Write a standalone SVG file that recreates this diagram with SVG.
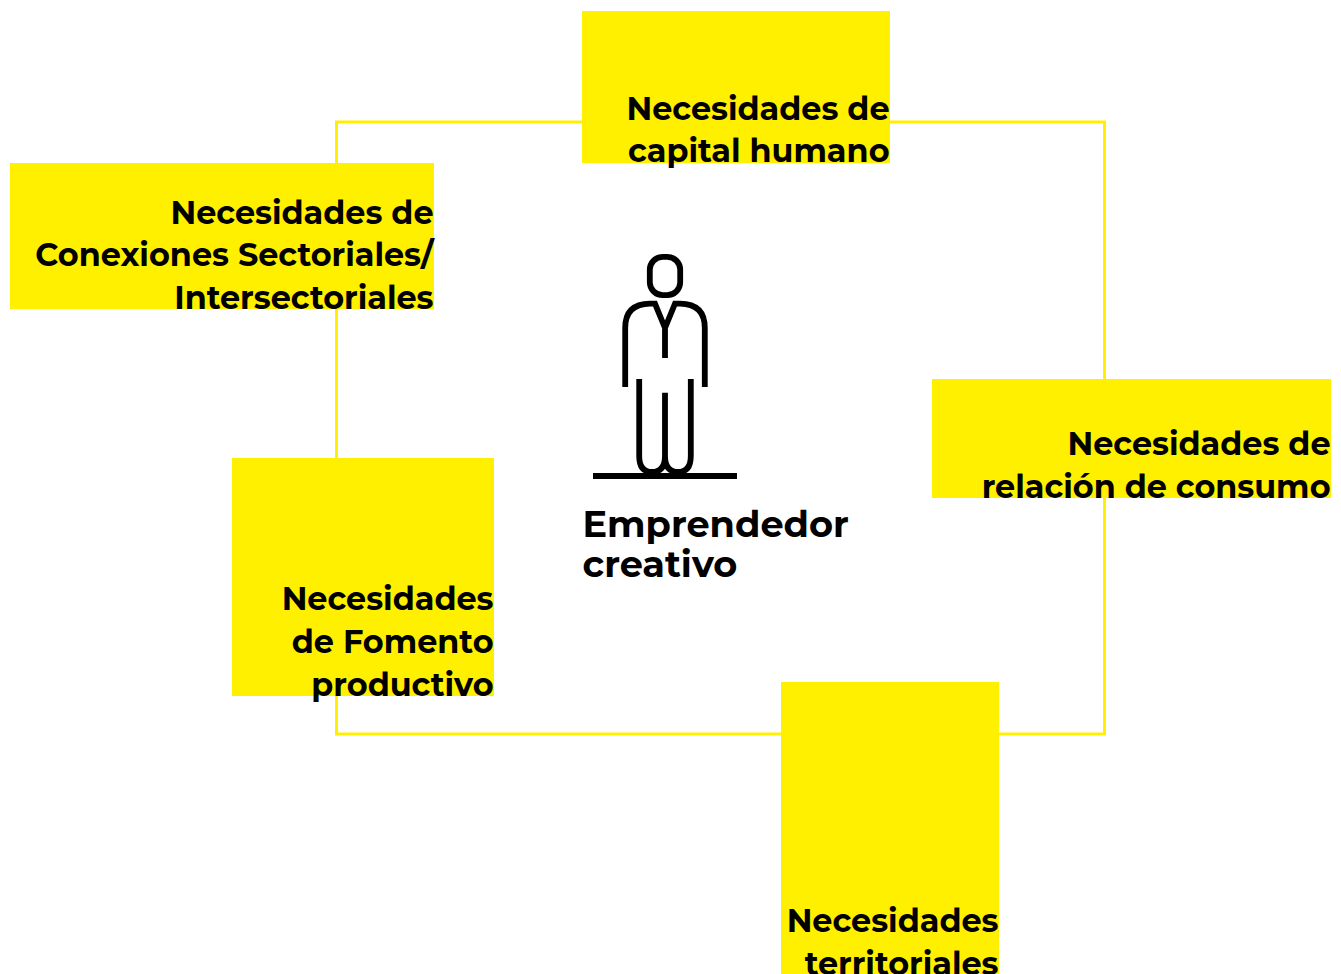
<svg xmlns="http://www.w3.org/2000/svg" width="1341" height="974" viewBox="0 0 1341 974">
<style>
.b{fill:#fff000}
.t{font-family:"Montserrat","Open Sans","Noto Sans",sans-serif;font-weight:700;font-size:31.850px;fill:#000;text-anchor:end}
.c{font-family:"Montserrat","Open Sans","Noto Sans",sans-serif;font-weight:700;font-size:36.700px;fill:#000}
.f{fill:none;stroke:#000;stroke-width:5.800}
</style>
<rect width="1341" height="974" fill="#fff"/>
<g id="connectors"><rect x="336.500" y="122" width="768" height="612" fill="none" stroke="#fff000" stroke-width="3"/></g>
<g id="n1"><rect class="b" x="582" y="11" width="308" height="152"/><text class="t" x="889.500" y="119.600">Necesidades de</text><text class="t" x="889.500" y="162.400">capital humano</text></g>
<g id="n2"><rect class="b" x="10" y="163" width="424" height="146"/><text class="t" x="433.500" y="224.300">Necesidades de</text><text class="t" x="433.500" y="266.300">Conexiones Sectoriales/</text><text class="t" x="433.500" y="309.300">Intersectoriales</text></g>
<g id="n3"><rect class="b" x="932" y="379" width="399" height="119"/><text class="t" x="1330.500" y="454.600">Necesidades de</text><text class="t" x="1330.500" y="497.600">relación de consumo</text></g>
<g id="n4"><rect class="b" x="232" y="458" width="262" height="238"/><text class="t" x="493.500" y="610.300">Necesidades</text><text class="t" x="493.500" y="653.300">de Fomento</text><text class="t" x="493.500" y="696.300">productivo</text></g>
<g id="n5"><rect class="b" x="781" y="682" width="218" height="292"/><text class="t" x="998.500" y="932">Necesidades</text><text class="t" x="998.500" y="974.500">territoriales</text></g>
<g id="center"><rect class="f" x="649.800" y="256.800" width="30.400" height="38.400" rx="13"/><path class="f" d="M625.200 387V328Q625.200 304 650 303.700H655L665 328L675 303.700H680Q704.800 304 704.800 328V387M665 328V358M639.200 379V456Q639.200 472 652 472Q665 472 665 456V392.700M665 456Q665 472 678 472Q690.800 472 690.800 456V379"/><path d="M593 476H737" fill="none" stroke="#000" stroke-width="6"/><text class="c" x="582.500" y="537">Emprendedor</text><text class="c" x="582.500" y="577">creativo</text></g>
</svg>
